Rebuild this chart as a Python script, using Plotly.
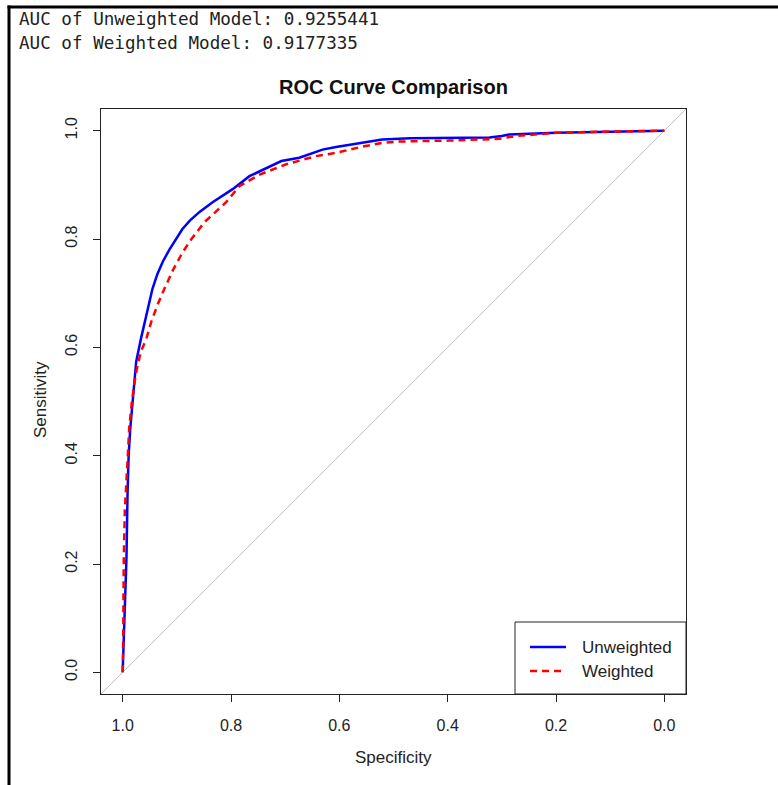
import plotly.graph_objects as go

# ---- data ----
unw_spec = [1.000, 0.998, 0.996, 0.9945, 0.993, 0.991, 0.989, 0.986, 0.981, 0.975,
            0.966, 0.956, 0.945, 0.936, 0.926, 0.914, 0.902, 0.890, 0.876, 0.858, 0.834,
            0.797, 0.766, 0.735, 0.707, 0.674, 0.631, 0.606, 0.560, 0.521, 0.470,
            0.429, 0.370, 0.323, 0.300, 0.287, 0.200, 0.120, 0.050, 0.000]
unw_sens = [0.000, 0.060, 0.120, 0.150, 0.210, 0.330, 0.400, 0.450, 0.512, 0.574,
            0.617, 0.660, 0.708, 0.735, 0.758, 0.780, 0.800, 0.818, 0.834, 0.850, 0.868,
            0.892, 0.916, 0.930, 0.944, 0.950, 0.965, 0.970, 0.978, 0.9835, 0.986,
            0.9866, 0.987, 0.9875, 0.990, 0.9927, 0.996, 0.998, 0.999, 1.000]

w_spec = [1.000, 0.999, 0.998, 0.996, 0.991, 0.988, 0.983, 0.976, 0.967, 0.956,
          0.947, 0.935, 0.923, 0.906, 0.889, 0.873, 0.849, 0.809, 0.784, 0.747,
          0.698, 0.643, 0.606, 0.560, 0.521, 0.490, 0.397, 0.305, 0.275, 0.200,
          0.120, 0.050, 0.000]
w_sens = [0.000, 0.060, 0.207, 0.300, 0.390, 0.450, 0.500, 0.550, 0.590, 0.617,
          0.648, 0.680, 0.708, 0.745, 0.776, 0.800, 0.831, 0.868, 0.898, 0.919,
          0.938, 0.953, 0.959, 0.970, 0.9774, 0.980, 0.9817, 0.985, 0.990, 0.996,
          0.998, 0.999, 1.000]

diag_spec = [1.04, -0.04]
diag_sens = [-0.04, 1.04]

tick_vals = [1.0, 0.8, 0.6, 0.4, 0.2, 0.0]
tick_text = ["1.0", "0.8", "0.6", "0.4", "0.2", "0.0"]

series_names = ["Unweighted", "Weighted"]
series_colors = ["#0000ff", "#ff0000"]

auc_unweighted = "0.9255441"
auc_weighted = "0.9177335"

# ---- layout constants (pixels) ----
W, H = 778, 785
L, R, T, B = 101, 686, 109, 694
pw, ph = R - L, B - T

def px(x):
    return (x - L) / pw

def py(y):
    return (B - y) / ph

SANS = "Liberation Sans, Arial, sans-serif"
MONO = "DejaVu Sans Mono, monospace"
INK = "#222"

fig = go.Figure()
fig.add_trace(go.Scatter(x=diag_spec, y=diag_sens, mode="lines",
                         line=dict(color="#c0c0c0", width=1), showlegend=False,
                         hoverinfo="skip"))
fig.add_trace(go.Scatter(x=unw_spec, y=unw_sens, mode="lines", name=series_names[0],
                         line=dict(color=series_colors[0], width=2.5)))
fig.add_trace(go.Scatter(x=w_spec, y=w_sens, mode="lines", name=series_names[1],
                         line=dict(color=series_colors[1], width=2.5, dash="7px,5px")))

axis_common = dict(showline=True, mirror=True, linecolor=INK, linewidth=1,
                   ticks="outside", ticklen=7, tickcolor=INK, tickwidth=1,
                   showgrid=False, zeroline=False, tickvals=tick_vals, ticktext=tick_text,
                   ticklabelstandoff=10,
                   tickfont=dict(family=SANS, size=16, color=INK))

fig.update_layout(
    width=W, height=H,
    margin=dict(l=L, r=W - R, t=T, b=H - B, pad=0),
    paper_bgcolor="white", plot_bgcolor="white",
    xaxis=dict(range=[1.04, -0.04], **axis_common),
    yaxis=dict(range=[-0.04, 1.04], tickangle=-90, **axis_common),
    showlegend=False,
)

ann = [
    dict(text="<b>ROC Curve Comparison</b>", x=px(393), y=py(87),
         font=dict(family=SANS, size=20, color="#111"), xanchor="center", yanchor="middle"),
    dict(text="Specificity", x=px(393), y=py(757), font=dict(family=SANS, size=17, color=INK),
         xanchor="center", yanchor="middle"),
    dict(text="Sensitivity", x=px(40), y=py(400), textangle=-90, font=dict(family=SANS, size=17, color=INK),
         xanchor="center", yanchor="middle"),
    dict(text="AUC of Unweighted Model: " + auc_unweighted, x=px(17), y=py(19),
         font=dict(family=MONO, size=17.6, color=INK), xanchor="left", yanchor="middle"),
    dict(text="AUC of Weighted Model: " + auc_weighted, x=px(17), y=py(43),
         font=dict(family=MONO, size=17.6, color=INK), xanchor="left", yanchor="middle"),
]

# legend (drawn manually to match R's legend box)
LEG_L, LEG_T = 515, 622
leg_rows = [647, 671]
shapes = [
    dict(type="rect", xref="paper", yref="paper", x0=px(LEG_L), x1=px(R), y0=py(B), y1=py(LEG_T),
         line=dict(color=INK, width=1), fillcolor="white", layer="above"),
]
dashes = ["solid", "7px,5px"]
for name, col, dsh, ry in zip(series_names, series_colors, dashes, leg_rows):
    shapes.append(dict(type="line", xref="paper", yref="paper", x0=px(530), x1=px(566),
                       y0=py(ry), y1=py(ry), line=dict(color=col, width=2.5, dash=dsh), layer="above"))
    ann.append(dict(text=name, x=px(580), y=py(ry), font=dict(family=SANS, size=17, color=INK),
                    xanchor="left", yanchor="middle"))

for a in ann:
    a.update(xref="paper", yref="paper", showarrow=False)

# page frame (filled bars)
shapes += [
    dict(type="rect", xref="paper", yref="paper", x0=px(7.5), x1=px(10.5), y0=py(5.5), y1=py(790),
         line=dict(width=0), fillcolor="black", layer="above"),
    dict(type="rect", xref="paper", yref="paper", x0=px(7.5), x1=px(800), y0=py(5.5), y1=py(8.5),
         line=dict(width=0), fillcolor="black", layer="above"),
]

fig.update_layout(annotations=ann, shapes=shapes)

fig.write_html("out.html", config={"displayModeBar": False, "staticPlot": True},
               post_script="document.body.style.margin='0';")
